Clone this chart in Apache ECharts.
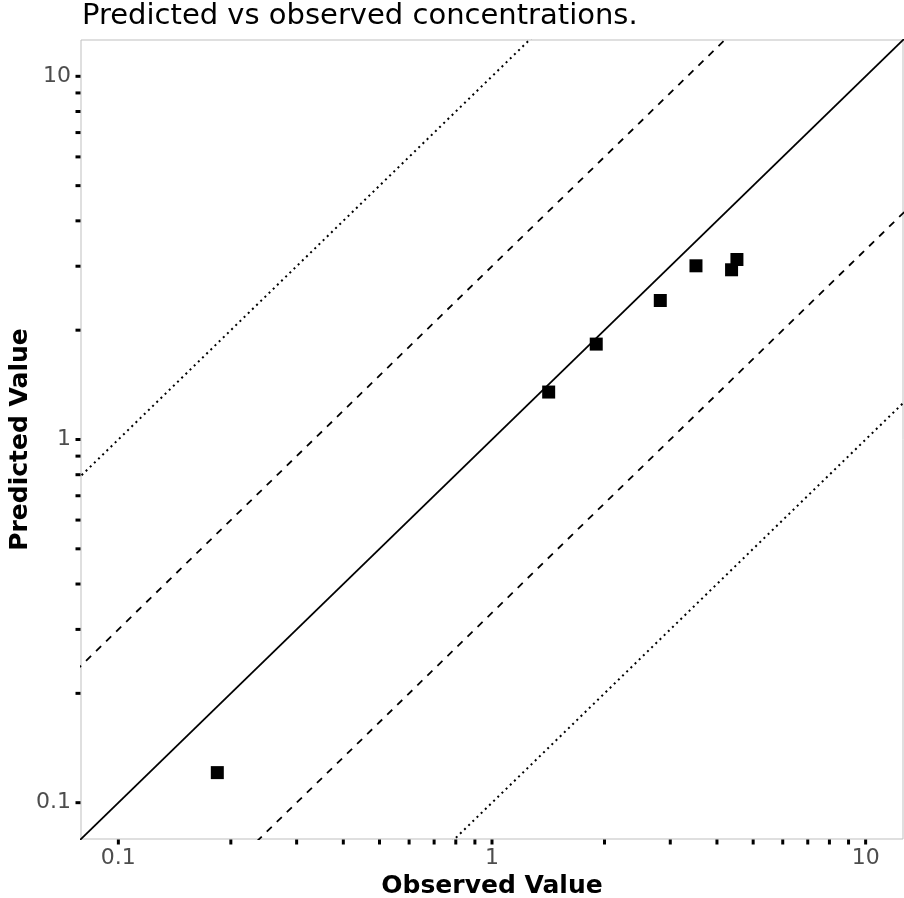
<!DOCTYPE html>
<html>
<head>
<meta charset="utf-8">
<title>Predicted vs observed concentrations.</title>
<script src="https://cdn.jsdelivr.net/npm/echarts@6/dist/echarts.min.js"></script>
<style>
  html, body { margin: 0; padding: 0; background: #ffffff; }
  #chart { width: 904px; height: 898px; }
</style>
</head>
<body>
<div id="chart"></div>
<script>
// Observed vs predicted concentrations
const observed  = [0.184, 1.418, 1.901, 2.821, 3.515, 4.377, 4.524];
const predicted = [0.121, 1.351, 1.831, 2.414, 3.008, 2.933, 3.130];

// Fold-difference guide lines: identity, 3-fold and 10-fold
const identityFactor = [1];
const threeFoldFactors = [3, 1 / 3];
const tenFoldFactors = [10, 1 / 10];

// Axis limits (0.1 – 10 with 5% expansion in log space) and tick values
const axisMin = Math.pow(10, -1.1);
const axisMax = Math.pow(10, 1.1);
const labelValues = [0.1, 1, 10];
const tickValues = [0.1, 0.2, 0.3, 0.4, 0.5, 0.6, 0.7, 0.8, 0.9,
                    1, 2, 3, 4, 5, 6, 7, 8, 9, 10];

const FONT = 'DejaVu Sans';

function guideLine(factor, type, width) {
  return {
    type: 'line',
    data: [[0.01, 0.01 * factor], [1000, 1000 * factor]],
    symbol: 'none',
    silent: true,
    clip: true,
    animation: false,
    lineStyle: { color: '#000000', width: width, type: type, cap: 'butt' },
    z: 2
  };
}

const series = [];
identityFactor.forEach(f => series.push(guideLine(f, 'solid', 1.8)));
threeFoldFactors.forEach(f => series.push(guideLine(f, [7, 7], 1.8)));
tenFoldFactors.forEach(f => series.push(guideLine(f, [2, 3.8], 2)));

series.push({
  type: 'scatter',
  data: observed.map((x, i) => [x, predicted[i]]),
  symbol: 'rect',
  symbolSize: 13,
  itemStyle: { color: '#000000', opacity: 1 },
  animation: false,
  z: 5
});

// Log tick marks on the bottom axis
series.push({
  type: 'custom',
  clip: false,
  silent: true,
  animation: false,
  data: tickValues.map(v => [v, axisMin]),
  renderItem: function (params, api) {
    const p = api.coord([api.value(0), api.value(1)]);
    return {
      type: 'rect',
      shape: { x: p[0] - 1.5, y: p[1] + 0.5, width: 3, height: 5 },
      style: { fill: '#000000' }
    };
  },
  z: 6
});

// Log tick marks on the left axis
series.push({
  type: 'custom',
  clip: false,
  silent: true,
  animation: false,
  data: tickValues.map(v => [axisMin, v]),
  renderItem: function (params, api) {
    const p = api.coord([api.value(0), api.value(1)]);
    return {
      type: 'rect',
      shape: { x: p[0] - 5.5, y: p[1] - 1.5, width: 5, height: 3 },
      style: { fill: '#000000' }
    };
  },
  z: 6
});

function powerLabel(value) {
  for (const v of labelValues) {
    if (Math.abs(Math.log10(value) - Math.log10(v)) < 1e-6) return String(v);
  }
  return '';
}

const chart = echarts.init(document.getElementById('chart'), null, { renderer: 'canvas' });
chart.setOption({
  backgroundColor: '#ffffff',
  animation: false,
  title: {
    text: 'Predicted vs observed concentrations.',
    left: 82,
    top: 2,
    padding: 0,
    textStyle: { fontFamily: FONT, fontSize: 29, fontWeight: 'normal', color: '#000000' }
  },
  grid: {
    left: 81, right: 1, top: 40, bottom: 59,
    show: true,
    borderColor: '#bfbfbf',
    borderWidth: 1,
    backgroundColor: 'transparent',
    containLabel: false,
    outerBoundsMode: 'none'
  },
  xAxis: {
    type: 'log',
    logBase: 10,
    min: axisMin,
    max: axisMax,
    name: 'Observed Value',
    nameLocation: 'middle',
    nameGap: 35,
    nameMoveOverlap: false,
    nameTextStyle: { fontFamily: FONT, fontSize: 25, fontWeight: 'bold', color: '#000000' },
    axisLine: { show: false },
    axisTick: { show: false },
    splitLine: { show: false },
    minorTick: { show: false },
    axisLabel: {
      fontFamily: FONT, fontSize: 22, color: '#4d4d4d', margin: 8,
      showMinLabel: false, showMaxLabel: false,
      formatter: powerLabel
    }
  },
  yAxis: {
    type: 'log',
    logBase: 10,
    min: axisMin,
    max: axisMax,
    name: 'Predicted Value',
    nameLocation: 'middle',
    nameGap: 48,
    nameMoveOverlap: false,
    nameRotate: 90,
    nameTextStyle: { fontFamily: FONT, fontSize: 25, fontWeight: 'bold', color: '#000000' },
    axisLine: { show: false },
    axisTick: { show: false },
    splitLine: { show: false },
    minorTick: { show: false },
    axisLabel: {
      fontFamily: FONT, fontSize: 22, color: '#4d4d4d', margin: 10,
      showMinLabel: false, showMaxLabel: false,
      formatter: powerLabel
    }
  },
  series: series
});
</script>
</body>
</html>
